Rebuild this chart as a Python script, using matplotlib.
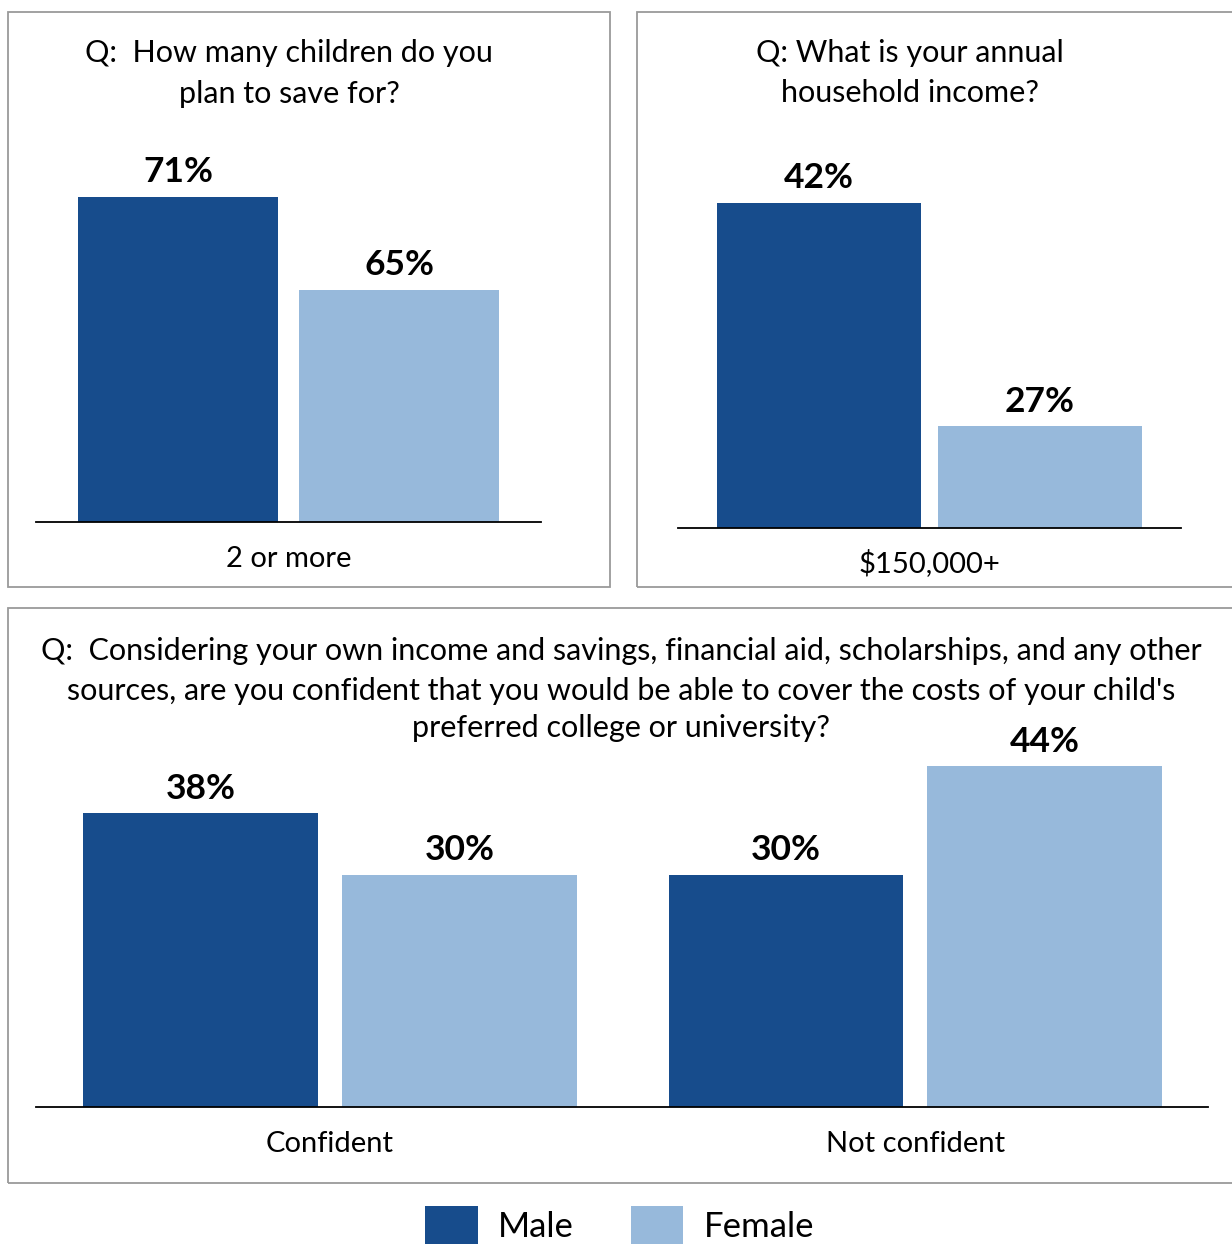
import matplotlib
matplotlib.use("Agg")
import matplotlib.pyplot as plt
from matplotlib.patches import Rectangle, Patch

plt.rcParams['font.family'] = ['Lato', 'DejaVu Sans']

# ---- data ----
series = ["Male", "Female"]
p1_title = ["Q:  How many children do you", "plan to save for?"]
p1_category = "2 or more"
p1_values = [71, 65]

p2_title = ["Q: What is your annual", "household income?"]
p2_category = "$150,000+"
p2_values = [42, 27]

p3_title = ["Q:  Considering your own income and savings, financial aid, scholarships, and any other",
            "sources, are you confident that you would be able to cover the costs of your child's",
            "preferred college or university?"]
p3_categories = ["Confident", "Not confident"]
p3_male = [38, 30]
p3_female = [30, 44]

COL_M = "#174C8C"
COL_F = "#97B9DB"
BORDER = "#9a9a9a"

W, H = 1232, 1246
fig = plt.figure(figsize=(W / 100, H / 100), dpi=100)


def fx(px):
    return px / W


def fy(py):
    return 1 - py / H


def add_ax(left, right, top, bottom):
    return fig.add_axes([fx(left), fy(bottom), fx(right) - fx(left), fy(top) - fy(bottom)])


def box(left, right, top, bottom):
    fig.patches.append(Rectangle((fx(left), fy(bottom)), fx(right) - fx(left), fy(top) - fy(bottom),
                                 transform=fig.transFigure, fill=False, edgecolor=BORDER, lw=1.3))


def style(ax):
    for s in ["top", "right", "left"]:
        ax.spines[s].set_visible(False)
    ax.spines["bottom"].set_color("black")
    ax.spines["bottom"].set_linewidth(1.3)
    ax.set_yticks([])
    ax.tick_params(axis="x", length=0, pad=17, labelsize=21)
    ax.set_facecolor("none")


def label(ax, x, v):
    ax.annotate(f"{v}%", (x, v), xytext=(0, 6), textcoords="offset points",
                ha="center", va="bottom", fontsize=25.5, fontweight="bold", color="black")


def title(lines, xc, ys):
    for line, y in zip(lines, ys):
        fig.text(fx(xc), fy(y), line, ha="center", va="center", fontsize=22)


# boxes
box(8, 610, 12, 587)
box(637, 1245, 12, 587)
box(8, 1245, 608, 1183)

# ---- panel 1 ----
ax1 = add_ax(36, 541, 140, 522)
style(ax1)
pos = [-0.5, 0.5]
ax1.bar(pos, p1_values, width=0.903, color=[COL_M, COL_F], bottom=0)
ax1.set_xlim(-1.141, 1.139)
ax1.set_ylim(50, 50 + (522 - 140) / 15.5)
ax1.set_xticks([0])
ax1.set_xticklabels([p1_category])
for x, v in zip(pos, p1_values):
    label(ax1, x, v)
title(p1_title, 289, [53, 94])

# ---- panel 2 ----
ax2 = add_ax(678, 1181, 140, 528)
style(ax2)
ax2.bar(pos, p2_values, width=0.92, color=[COL_M, COL_F])
ax2.set_xlim(-1.138, 1.138)
ax2.set_ylim(20.2, 20.2 + (528 - 140) / 14.93)
ax2.set_xticks([0])
ax2.set_xticklabels([p2_category])
ax2.tick_params(axis="x", pad=15)
for x, v in zip(pos, p2_values):
    label(ax2, x, v)
title(p2_title, 910, [53, 93])

# ---- panel 3 ----
ax3 = add_ax(36, 1208, 760, 1107)
style(ax3)
g = [0, 1]
off = 0.221
ax3.bar([p - off for p in g], p3_male, width=0.401, color=COL_M)
ax3.bar([p + off for p in g], p3_female, width=0.401, color=COL_F)
ax3.set_xlim(-0.502, 1.4996)
ax3.set_ylim(0, (1107 - 760) / 7.74)
ax3.set_xticks(g)
ax3.set_xticklabels(p3_categories)
for p, m, f in zip(g, p3_male, p3_female):
    label(ax3, p - off, m)
    label(ax3, p + off, f)
title(p3_title, 621, [651, 691, 728])

# ---- legend ----
handles = [Patch(facecolor=COL_M, edgecolor="none"), Patch(facecolor=COL_F, edgecolor="none")]
fig.legend(handles, series, loc="center", bbox_to_anchor=(fx(620), fy(1225)), ncol=2,
           frameon=False, fontsize=25, handlelength=1.5, handleheight=1.3,
           handletextpad=0.6, columnspacing=1.64, borderpad=0, borderaxespad=0)

fig.savefig("out.png", dpi=100)
